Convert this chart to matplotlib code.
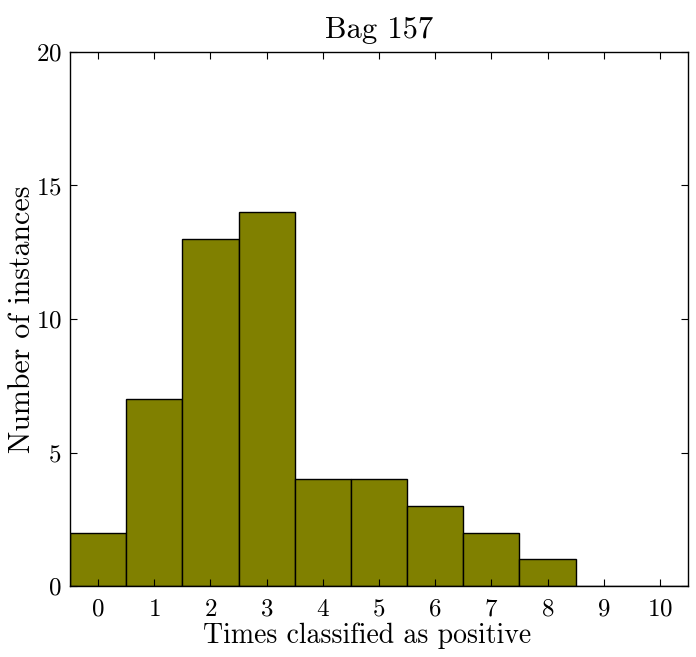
import matplotlib
matplotlib.use("Agg")
import matplotlib.pyplot as plt

counts = [2, 7, 13, 14, 4, 4, 3, 2, 1, 0, 0]
times = list(range(11))

plt.rcParams['font.family'] = ['cmr10', 'DejaVu Serif']
plt.rcParams['axes.formatter.use_mathtext'] = True

fig = plt.figure(figsize=(6.96, 6.57), dpi=100)
ax = fig.add_axes([0.1006, 0.108, 0.8879, 0.813])

ax.bar(times, counts, width=1.0, color='#808000', edgecolor='black', linewidth=1)

ax.set_xlim(-0.5, 10.5)
ax.set_ylim(0, 20)
ax.set_xticks(times)
ax.set_yticks([0, 5, 10, 15, 20])
ax.tick_params(direction='in', top=True, right=True, length=5, labelsize=18)
ax.tick_params(axis='x', pad=9)
ax.tick_params(axis='y', pad=6)
for s in ax.spines.values():
    s.set_linewidth(1)

ax.set_title("Bag 157", fontsize=22, pad=10)
ax.set_xlabel("Times classified as positive", fontsize=20, labelpad=1, x=0.48)
ax.set_ylabel("Number of instances", fontsize=21.5, labelpad=0)

fig.savefig("out.png", dpi=100)
